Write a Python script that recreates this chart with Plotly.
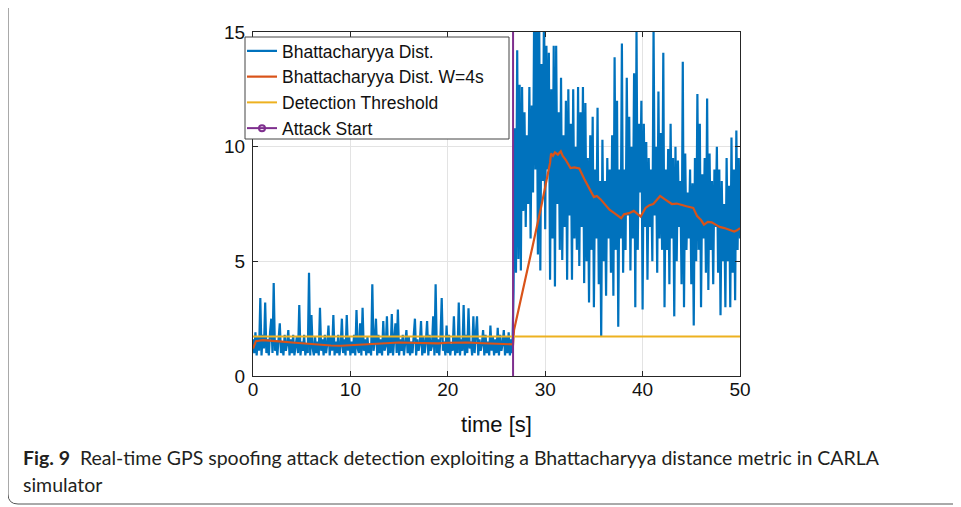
import numpy as np
import plotly.graph_objects as go

# ---------------- data ----------------
dt = 0.125
attack_t = 26.7
threshold = 1.72

bhatt_pre = [
    1.6, 1.0, 1.9, 0.9, 1.7, 1.1, 3.4, 0.9, 1.8, 1.2,
    3.2, 1.0, 1.6, 0.9, 1.9, 2.5, 1.0, 4.05, 1.1, 1.5,
    0.9, 1.7, 2.3, 1.0, 1.5, 0.9, 1.8, 1.1, 1.4, 2.0,
    0.9, 1.6, 1.0, 1.8, 0.9, 1.3, 1.7, 1.0, 3.1, 0.9,
    1.5, 1.1, 1.8, 0.9, 1.4, 1.0, 4.5, 0.9, 2.66, 1.2,
    0.9, 1.7, 1.0, 1.5, 0.9, 2.97, 1.1, 1.6, 0.9, 1.8,
    1.0, 1.4, 2.2, 0.9, 1.7, 1.1, 2.66, 0.9, 1.5, 1.0,
    1.8, 0.9, 1.3, 2.5, 1.0, 1.6, 0.9, 2.66, 1.1, 1.7,
    0.9, 1.5, 1.0, 1.8, 0.9, 2.88, 1.2, 1.0, 2.3, 0.9,
    2.97, 1.1, 1.6, 0.9, 1.7, 1.0, 1.4, 0.9, 4.0, 1.1,
    1.5, 2.5, 0.9, 1.8, 1.0, 1.6, 0.9, 2.4, 1.1, 1.3,
    2.6, 0.9, 1.7, 1.0, 2.7, 0.9, 1.5, 2.3, 1.0, 2.9,
    0.9, 1.6, 1.1, 1.8, 0.9, 1.4, 2.0, 1.0, 1.7, 0.9,
    1.5, 1.0, 1.8, 2.5, 0.9, 1.6, 1.1, 1.4, 2.4, 0.9,
    1.7, 1.0, 1.5, 2.4, 0.9, 1.8, 1.1, 1.3, 2.6, 0.9,
    4.0, 1.0, 1.6, 0.9, 1.7, 3.4, 1.1, 1.5, 0.9, 2.2,
    1.0, 1.8, 0.9, 1.4, 1.1, 2.6, 0.9, 1.7, 1.0, 3.2,
    0.9, 1.6, 1.1, 3.1, 0.9, 1.8, 1.0, 2.95, 1.2, 1.5,
    0.9, 2.6, 1.0, 1.7, 2.6, 0.9, 1.6, 1.1, 1.4, 2.0,
    0.9, 1.8, 1.0, 1.5, 0.9, 2.2, 1.1, 1.7, 0.9, 1.6,
    1.0, 2.1, 0.9, 1.8, 1.1, 1.4, 2.0, 0.9, 1.7, 1.0,
    1.9, 0.9, 1.6, 1.0,
]

bhatt_post = [
    3.7, 10.8, 4.5, 14.2, 5.1, 12.7, 4.6, 12.6,
    7.2, 11.5, 6.5, 10.5, 7.5, 12.6, 6.0, 11.8,
    8.0, 16.5, 9.0, 15.5, 5.3, 16.5, 4.6, 13.6,
    8.5, 16.0, 6.4, 14.4, 9.0, 14.1, 4.2, 12.5,
    6.0, 14.4, 3.9, 14.4, 7.5, 11.5, 5.5, 13.0,
    5.06, 10.5, 6.5, 12.0, 4.2, 12.5, 7.0, 11.0,
    4.2, 12.5, 6.0, 10.0, 5.5, 12.6, 4.8, 11.5,
    6.5, 12.6, 4.05, 11.9, 5.0, 9.5, 3.2, 10.5,
    5.5, 11.3, 3.0, 9.0, 6.0, 11.7, 4.0, 8.5,
    1.7, 10.3, 5.0, 8.5, 3.5, 9.5, 6.0, 9.0,
    4.5, 10.5, 3.5, 13.9, 5.5, 12.0, 2.15, 9.0,
    6.0, 14.5, 4.5, 9.0, 5.5, 13.0, 7.0, 11.3,
    4.6, 10.0, 6.0, 13.2, 3.0, 15.1, 5.5, 11.0,
    8.0, 12.0, 2.9, 11.0, 6.5, 10.2, 4.2, 9.5,
    6.5, 9.0, 5.0, 15.2, 7.0, 10.0, 4.5, 12.4,
    6.0, 10.6, 5.5, 14.1, 3.0, 9.0, 5.5, 9.9,
    4.0, 11.0, 6.0, 9.5, 2.6, 10.0, 5.0, 9.4,
    6.5, 8.5, 4.0, 13.7, 3.0, 9.7, 5.5, 8.0,
    6.0, 9.0, 4.0, 8.4, 2.2, 9.5, 5.0, 12.3,
    5.5, 11.0, 3.0, 8.8, 6.0, 9.5, 4.5, 12.1,
    3.75, 9.7, 5.5, 8.5, 4.0, 9.0, 6.5, 10.0,
    4.5, 9.0, 2.65, 8.5, 5.0, 7.5, 3.0, 9.5,
    5.0, 8.3, 3.0, 10.4, 4.5, 9.0, 3.3, 10.7,
    5.5, 9.5, 6.0,
]

win_t = [0, 0.3, 1, 2, 3, 4, 5, 6, 7, 8, 9, 10, 11, 12, 13, 14, 15, 16, 17,
         18, 19, 20, 21, 22, 23, 24, 25, 26, 26.7,
         26.8, 27.2, 28.0, 28.7, 29.6, 30.2, 30.5, 30.6, 30.8, 31.0, 31.3, 31.6,
         31.8, 32.1, 32.6, 33.0, 33.5, 34.0, 34.4, 34.7, 35.0, 35.3, 35.7,
         36.2, 36.6, 37.1, 37.5, 37.8, 38.1, 38.6, 39.1, 39.5, 39.8, 40.3,
         40.7, 41.1, 41.5, 41.8, 42.3, 42.7, 43.0, 43.5, 44.0, 44.5, 45.2,
         45.6, 46.0, 46.3, 46.7, 47.1, 47.5, 47.9, 48.4, 48.9, 49.4, 49.7, 50.0]
win_v = [1.2, 1.52, 1.56, 1.54, 1.5, 1.46, 1.42, 1.38, 1.34, 1.33, 1.32, 1.34,
         1.36, 1.4, 1.42, 1.45, 1.46, 1.45, 1.43, 1.41, 1.42, 1.45, 1.46, 1.46,
         1.44, 1.42, 1.41, 1.4, 1.38,
         2.0, 2.75, 4.3, 5.65, 7.4, 8.6, 9.3, 9.7, 9.6, 9.75, 9.65, 9.8,
         9.6, 9.43, 9.07, 9.1, 9.05, 8.6, 8.3, 8.05, 7.8, 7.85, 7.7,
         7.45, 7.25, 7.1, 6.95, 6.88, 7.05, 7.1, 7.2, 7.05, 6.95, 7.33,
         7.45, 7.5, 7.7, 7.85, 7.7, 7.6, 7.5, 7.52, 7.45, 7.4, 7.33,
         6.97, 6.8, 6.6, 6.72, 6.7, 6.6, 6.5, 6.45, 6.38, 6.3, 6.35, 6.45]

x_ticks = [0, 10, 20, 30, 40, 50]
y_ticks = [0, 5, 10, 15]

# ---------------- figure ----------------
t_pre = np.arange(len(bhatt_pre)) * dt
t_post = attack_t + 0.05 + np.arange(len(bhatt_post)) * dt
t_all = np.concatenate([t_pre, t_post])
v_all = np.array(bhatt_pre + bhatt_post)

OFF = 8                       # page body margin
W, H = 961 - OFF, 507 - OFF
L, R, T, B = 253, 740, 32, 376   # plot area in screen pixels


def xp(px):
    return (px - L) / (R - L)


def yp(py):
    return (B - py) / (B - T)


fig = go.Figure()
fig.add_trace(go.Scatter(x=t_all, y=v_all, mode="lines", name="Bhattacharyya Dist.",
                         line=dict(color="#0072BD", width=2.2)))
fig.add_trace(go.Scatter(x=win_t, y=win_v, mode="lines", name="Bhattacharyya Dist. W=4s",
                         line=dict(color="#D95319", width=2.2)))
fig.add_trace(go.Scatter(x=[0, 50], y=[threshold, threshold], mode="lines",
                         name="Detection Threshold",
                         line=dict(color="#EDB120", width=2)))
fig.add_trace(go.Scatter(x=[attack_t, attack_t], y=[-1, 16], mode="lines+markers",
                         name="Attack Start",
                         line=dict(color="#7E2F8E", width=2),
                         marker=dict(symbol="circle-open", size=6, color="#7E2F8E",
                                     line=dict(width=2)),
                         cliponaxis=True))

axis_common = dict(
    showgrid=True, gridcolor="#e3e3e3", gridwidth=1,
    showline=True, linecolor="#262626", linewidth=1.3, mirror="ticks",
    ticks="inside", ticklen=5, tickcolor="#262626", tickwidth=1.2,
    tickfont=dict(family="Liberation Sans, Arial, sans-serif", size=19, color="#111"),
    zeroline=False,
)

fig.update_xaxes(range=[0, 50], tickvals=x_ticks, ticklabelstandoff=-4,
                 title=dict(text="time [s]", standoff=17,
                            font=dict(family="Liberation Sans, Arial, sans-serif",
                                      size=22, color="#111")),
                 **axis_common)
fig.update_yaxes(range=[0, 15], tickvals=y_ticks, ticklabelstandoff=3, **axis_common)

fig.update_layout(
    width=W, height=H,
    margin=dict(l=L - OFF, r=W - (R - OFF), t=T - OFF, b=H - (B - OFF), autoexpand=False),
    paper_bgcolor="white", plot_bgcolor="white",
    showlegend=True,
    legend=dict(x=xp(242), y=yp(33), xanchor="left", yanchor="top",
                bgcolor="rgba(0,0,0,0)", borderwidth=0,
                font=dict(family="Liberation Sans, Arial, sans-serif", size=17.5, color="#111"),
                itemwidth=30, tracegroupgap=0),
    font=dict(family="Liberation Sans, Arial, sans-serif"),
)

# legend box (drawn as a shape so its size matches the original)
fig.add_shape(type="rect", xref="paper", yref="paper",
              x0=xp(245), x1=xp(509), y0=yp(139), y1=yp(37),
              fillcolor="white", line=dict(color="#444", width=1), layer="above")

# caption
cap_font = dict(family="Lato, Open Sans, sans-serif", size=19.5, color="#231f20")
fig.add_annotation(xref="paper", yref="paper", x=xp(21), y=yp(457), xanchor="left",
                   yanchor="middle", showarrow=False, font=cap_font, align="left",
                   text="<b>Fig. 9</b>\u00a0\u00a0Real-time GPS spoofing attack detection exploiting a "
                        "Bhattacharyya distance metric in CARLA")
fig.add_annotation(xref="paper", yref="paper", x=xp(21), y=yp(485), xanchor="left",
                   yanchor="middle", showarrow=False, font=cap_font, align="left",
                   text="simulator")

# outer rounded frame
path = (f"M {xp(8)},{yp(-5)} L {xp(8)},{yp(494)} "
        f"Q {xp(8)},{yp(504)} {xp(18)},{yp(504)} L {xp(970)},{yp(504)}")
fig.add_shape(type="path", xref="paper", yref="paper", path=path,
              line=dict(color="#555", width=1), layer="above")

fig.write_html("out.html")
